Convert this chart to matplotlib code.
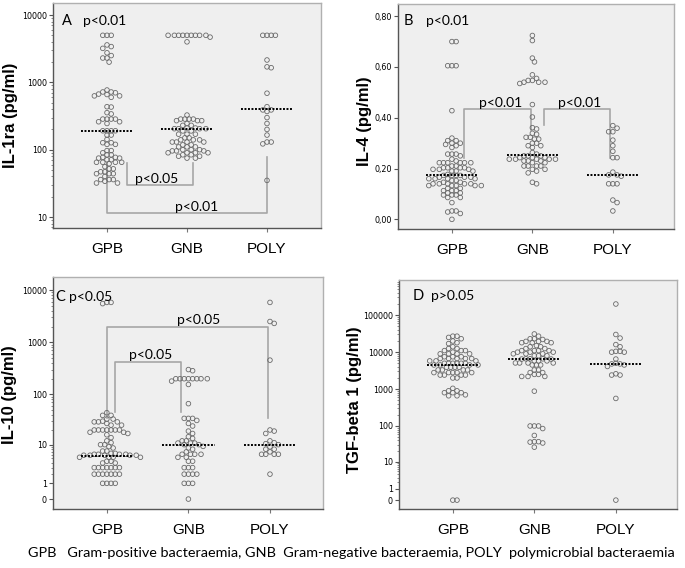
import numpy as np
import matplotlib
matplotlib.use("Agg")
import matplotlib.pyplot as plt
from matplotlib.ticker import FixedLocator, FixedFormatter, NullFormatter

groups = ["GPB", "GNB", "POLY"]

# ---- Panel A: IL-1ra (pg/ml)
il1ra_gpb = [5000]*3 + [3600, 3400, 3200, 2750, 2500, 2300, 2300, 2000, 770, 720, 720, 700, 670, 660,
             630, 630, 600, 435, 430, 355, 340] + [285]*4 + [260, 260, 245] + [191]*4 + \
            [165, 165, 142, 127, 127, 120, 120, 97, 97, 90, 84, 84, 77, 77, 75, 75, 71, 71] + [65]*4 + \
            [62, 56, 52, 52, 47, 47, 44, 44, 44, 40, 36, 36, 36, 34, 32, 32]
il1ra_gnb = [5000]*9 + [4700, 4000, 327] + [285]*4 + [270]*3 + [245, 230, 230, 210, 210] + [205]*4 + \
            [190, 190, 170, 170, 170, 150, 150, 140, 140, 140] + [130]*4 + \
            [118, 118, 110, 110, 110, 100, 100, 100, 96, 96, 96] + [90]*4 + [84, 84, 80, 80, 75, 75]
il1ra_poly = [5000]*4 + [2150, 1700, 1650, 690, 435, 390, 390, 370, 300, 245, 200, 165, 130, 130, 122, 35]
il1ra_median = [188, 205, 400]

# ---- Panel B: IL-4 (pg/ml)
il4_gpb = [0.70, 0.70, 0.605, 0.605, 0.605, 0.428, 0.32, 0.31, 0.31, 0.30, 0.30, 0.295, 0.29, 0.283,
           0.257, 0.257, 0.257, 0.25, 0.237, 0.23] + [0.223]*6 + [0.21, 0.21] + [0.203]*4 + \
          [0.197]*3 + [0.19]*3 + [0.177] + [0.173]*4 + [0.166]*3 + [0.16]*4 + [0.153, 0.153, 0.146, 0.146] + \
          [0.14]*5 + [0.133]*5 + [0.122, 0.122, 0.113, 0.113, 0.113, 0.104, 0.104, 0.096, 0.096, 0.096,
                                   0.086, 0.086, 0.066, 0.033, 0.033, 0.029, 0.023, 0.0]
il4_gnb = [0.724, 0.704, 0.635, 0.62, 0.569, 0.555, 0.547, 0.547, 0.54, 0.54, 0.54, 0.535, 0.452, 0.403,
           0.361, 0.356, 0.339, 0.335, 0.323, 0.323, 0.316, 0.316, 0.30, 0.30, 0.29, 0.29, 0.283, 0.263,
           0.257, 0.25, 0.25, 0.25, 0.243, 0.243, 0.243] + [0.237]*5 + [0.23]*3 + [0.223, 0.223] + \
          [0.21]*4 + [0.197, 0.197, 0.19, 0.183, 0.146, 0.14]
il4_poly = [0.369, 0.359, 0.345, 0.345, 0.312, 0.29, 0.268, 0.243, 0.243, 0.186, 0.175, 0.175, 0.17,
            0.14, 0.14, 0.14, 0.076, 0.066, 0.033]
il4_median = [0.175, 0.253, 0.175]

# ---- Panel C: IL-10 (pg/ml)
il10_gpb = [5500, 5800, 5800, 44, 39, 39, 33, 33, 30, 29, 29, 29, 27, 25, 25] + [20]*7 + \
           [18, 18, 17, 16, 14, 12, 11, 10, 10, 9.1, 8.5, 7.3, 7.3, 6.5, 6.5] + [6.2]*4 + [5.9]*5 + \
           [5.3]*4 + [4.3, 4.3, 3.9, 3.9] + [3]*7 + [2]*7 + [1]*4
il10_gnb = [300, 285] + [200]*8 + [180, 155, 66, 34, 34, 34, 31, 27, 24, 19, 17, 14.6, 13.5, 12, 12,
                                  10.8, 10.8, 10.8, 10, 10, 9.2, 8.5, 8, 7] + [6.2]*4 + \
           [5.3, 5.3, 4.3, 4.3, 3, 3, 3, 2, 2, 2, 2, 1, 1, 1, 0]
il10_poly = [5800, 2500, 2300, 455, 20, 19, 17, 12, 11, 10.5, 10, 9, 8, 8, 7, 6.2, 6.2, 6.2, 6.2, 2]
il10_median = [5.7, 10, 10]

# ---- Panel D: TGF-beta 1 (pg/ml)
tgf_gpb = [27000, 27000, 25000, 23000, 20000, 18000, 17000, 14000, 12500, 12500, 11000, 11000, 11000,
           10000] + [9000]*4 + [7500]*3 + [6700]*5 + [5800]*3 + [5000]*6 + [4500]*4 + [3900]*4 + \
          [3300]*4 + [2800]*5 + [2400]*4 + [2000, 2000, 1050, 900, 900, 800, 800, 800, 700, 660, 660, 0, 0]
tgf_gnb = [31000, 27000, 23000, 23000, 22000] + [19500]*3 + [18000]*3 + [15000, 14000, 14000, 12500, 12500] + \
          [11000]*4 + [10000]*3 + [9000]*3 + [8000]*3 + [6600]*3 + [6500]*2 + [5800]*3 + [5100]*4 + \
          [4500]*3 + [3300, 3300, 2800, 2800, 2500, 2500, 2200, 2200, 2200, 880, 100, 100, 100, 85, 55,
                      37, 37, 36, 34, 26]
tgf_poly = [200000, 30000, 24000, 16000, 14000, 10500, 10500, 10000, 10000, 6500, 5000, 4800, 4800, 4500,
            4100, 2600, 2400, 2400, 560, 0]
tgf_median = [4500, 6500, 4700]

W, H = 685, 568
fig = plt.figure(figsize=(W / 100, H / 100), dpi=100)
fig.patch.set_facecolor("white")

BG = "#efefef"
PT_EDGE = "#6a6a6a"
BR = "#a6a6a6"
SANS = ["Liberation Sans", "DejaVu Sans"]
CAL = ["Lato", "DejaVu Sans"]


def px_axes(l, t, r, b):
    return fig.add_axes([l / W, 1 - b / H, (r - l) / W, (b - t) / H])


def fwd(x):
    x = np.asarray(x, dtype=float)
    return np.log10(np.clip(x, -0.999999, None) + 1)


def inv(t):
    return 10 ** np.asarray(t, dtype=float) - 1


def style_axes(ax):
    ax.set_facecolor(BG)
    for s in ["top", "right"]:
        ax.spines[s].set_color("#b0b0b0")
    for s in ["left", "bottom"]:
        ax.spines[s].set_color("#555555")
    for s in ax.spines.values():
        s.set_linewidth(1.0)
    ax.set_xticks([0, 1, 2])
    ax.set_xticklabels(groups, fontsize=11, family=SANS)
    ax.tick_params(axis="x", length=3, color="#777777", pad=7)
    ax.tick_params(axis="y", which="major", length=3, labelsize=5.8, color="#555555", pad=1.5)
    ax.tick_params(axis="y", which="minor", length=1.5, color="#777777")


def swarm(ax, xc, vals, diam=4.2):
    vals = np.asarray(vals, dtype=float)
    pts = ax.transData.transform(np.column_stack([np.full(len(vals), float(xc)), vals]))
    ys = pts[:, 1]
    x0 = pts[0, 0]
    order = np.argsort(-ys, kind="stable")
    placed = []
    off = np.zeros(len(vals))
    step = diam / 2.0
    cands = [0.0]
    for k in range(1, 60):
        cands += [k * step, -k * step]
    for i in order:
        y = ys[i]
        for c in cands:
            ok = True
            for (px, py) in placed:
                if abs(py - y) < diam and (c - px) ** 2 + (y - py) ** 2 < diam ** 2:
                    ok = False
                    break
            if ok:
                break
        placed.append((c, y))
        off[i] = c
    xs_disp = x0 + off
    back = ax.transData.inverted().transform(np.column_stack([xs_disp, ys]))
    return back[:, 0], vals


def draw_groups(ax, data, medians):
    for i, vals in enumerate(data):
        xs, ys = swarm(ax, i, vals)
        ax.scatter(xs, ys, s=11, facecolors="none", edgecolors=PT_EDGE, linewidths=0.6, zorder=3)
        ax.plot([i - 0.32, i + 0.32], [medians[i], medians[i]], color="black",
                linestyle=(0, (1, 0.8)), linewidth=1.4, zorder=4)


def bracket(ax, x1, y1, x2, y2, yh, label, tx, ty, ha="center"):
    ax.plot([x1, x1, x2, x2], [y1, yh, yh, y2], color=BR, linewidth=1.2, zorder=2)
    ax.text(tx, ty, label, ha=ha, va="center", fontsize=10, family=CAL, zorder=5)


def panel_title(ax, letter, p, lx, px, ty):
    fig.text(lx / W, 1 - ty / H, letter, fontsize=10.5, family=CAL, va="center", ha="left")
    fig.text(px / W, 1 - ty / H, p, fontsize=10, family=CAL, va="center", ha="left")


def minor_log_ticks(lo_exp, hi_exp):
    return [m * 10 ** e for e in range(lo_exp, hi_exp) for m in range(2, 10)]


# ---------------- Panel A
axA = px_axes(53, 3, 321, 228)
style_axes(axA)
axA.set_yscale("log")
axA.set_xlim(-0.675, 2.675)
axA.set_ylim(6.87, 15100)
axA.yaxis.set_major_locator(FixedLocator([10, 100, 1000, 10000]))
axA.yaxis.set_major_formatter(FixedFormatter(["10", "100", "1000", "10000"]))
axA.yaxis.set_minor_locator(FixedLocator(minor_log_ticks(0, 4)))
axA.yaxis.set_minor_formatter(NullFormatter())
draw_groups(axA, [il1ra_gpb, il1ra_gnb, il1ra_poly], il1ra_median)
bracket(axA, 0.25, 64, 1.07, 64, 30, "p<0.05", 0.35, 37, ha="left")
bracket(axA, 0.0, 63, 2.0, 78, 11.3, "p<0.01", 1.12, 14.2)
panel_title(axA, "A", "p<0.01", 62, 83, 21)
fig.text(11 / W, 1 - 115 / H, "IL-1ra (pg/ml)", rotation=90, fontsize=12, fontweight="bold",
         family=SANS, ha="center", va="center")

# ---------------- Panel B
axB = px_axes(398, 4, 674, 229)
style_axes(axB)
axB.set_xlim(-0.67, 2.76)
axB.set_ylim(-0.038, 0.848)
ticksB = [0.0, 0.2, 0.4, 0.6, 0.8]
axB.yaxis.set_major_locator(FixedLocator(ticksB))
axB.yaxis.set_major_formatter(FixedFormatter([f"{t:.2f}".replace(".", ",") for t in ticksB]))
draw_groups(axB, [il4_gpb, il4_gnb, il4_poly], il4_median)
bracket(axB, 0.153, 0.24, 0.977, 0.35, 0.436, "p<0.01", 0.60, 0.458)
bracket(axB, 1.142, 0.372, 1.967, 0.24, 0.436, "p<0.01", 1.59, 0.458)
panel_title(axB, "B", "p<0.01", 404, 426, 21)
fig.text(364 / W, 1 - 121 / H, "IL-4 (pg/ml)", rotation=90, fontsize=12, fontweight="bold",
         family=SANS, ha="center", va="center")

# ---------------- Panel C
axC = px_axes(53, 277, 323, 509)
style_axes(axC)
axC.set_yscale("function", functions=(fwd, inv))
axC.set_xlim(-0.66, 2.65)
axC.set_ylim(float(inv(-0.19)), float(inv(4.25)))
axC.yaxis.set_major_locator(FixedLocator([0, 1, 10, 100, 1000, 10000]))
axC.yaxis.set_major_formatter(FixedFormatter(["0", "1", "10", "100", "1000", "10000"]))
axC.yaxis.set_minor_locator(FixedLocator(minor_log_ticks(0, 4)))
axC.yaxis.set_minor_formatter(NullFormatter())
draw_groups(axC, [il10_gpb, il10_gnb, il10_poly], il10_median)
bracket(axC, 0.0, 34, 1.98, 34, 1970, "p<0.05", 1.12, 2700)
bracket(axC, 0.095, 45, 0.905, 45, 426, "p<0.05", 0.535, 560)
panel_title(axC, "C", "p<0.05", 55, 69, 297)
fig.text(10 / W, 1 - 395 / H, "IL-10 (pg/ml)", rotation=90, fontsize=12, fontweight="bold",
         family=SANS, ha="center", va="center")

# ---------------- Panel D
axD = px_axes(399, 280, 677, 509)
style_axes(axD)
axD.set_yscale("function", functions=(fwd, inv))
axD.set_xlim(-0.66, 2.75)
axD.set_ylim(float(inv(-0.24)), float(inv(5.95)))
axD.yaxis.set_major_locator(FixedLocator([0, 1, 10, 100, 1000, 10000, 100000]))
axD.yaxis.set_major_formatter(FixedFormatter(["0", "1", "10", "100", "1000", "10000", "100000"]))
axD.yaxis.set_minor_locator(FixedLocator(minor_log_ticks(0, 6)))
axD.yaxis.set_minor_formatter(NullFormatter())
draw_groups(axD, [tgf_gpb, tgf_gnb, tgf_poly], tgf_median)
panel_title(axD, "D", "p>0.05", 413, 431, 296)
fig.text(355 / W, 1 - 400 / H, "TGF-beta 1 (pg/ml)", rotation=90, fontsize=12, fontweight="bold",
         family=SANS, ha="center", va="center")

# ---------------- Footnote
fig.text(351 / W, 1 - 553 / H,
         "GPB   Gram-positive bacteraemia, GNB  Gram-negative bacteraemia, POLY  polymicrobial bacteraemia",
         fontsize=10.4, family=CAL, ha="center", va="center")

fig.savefig("out.png", dpi=100, facecolor="white")
